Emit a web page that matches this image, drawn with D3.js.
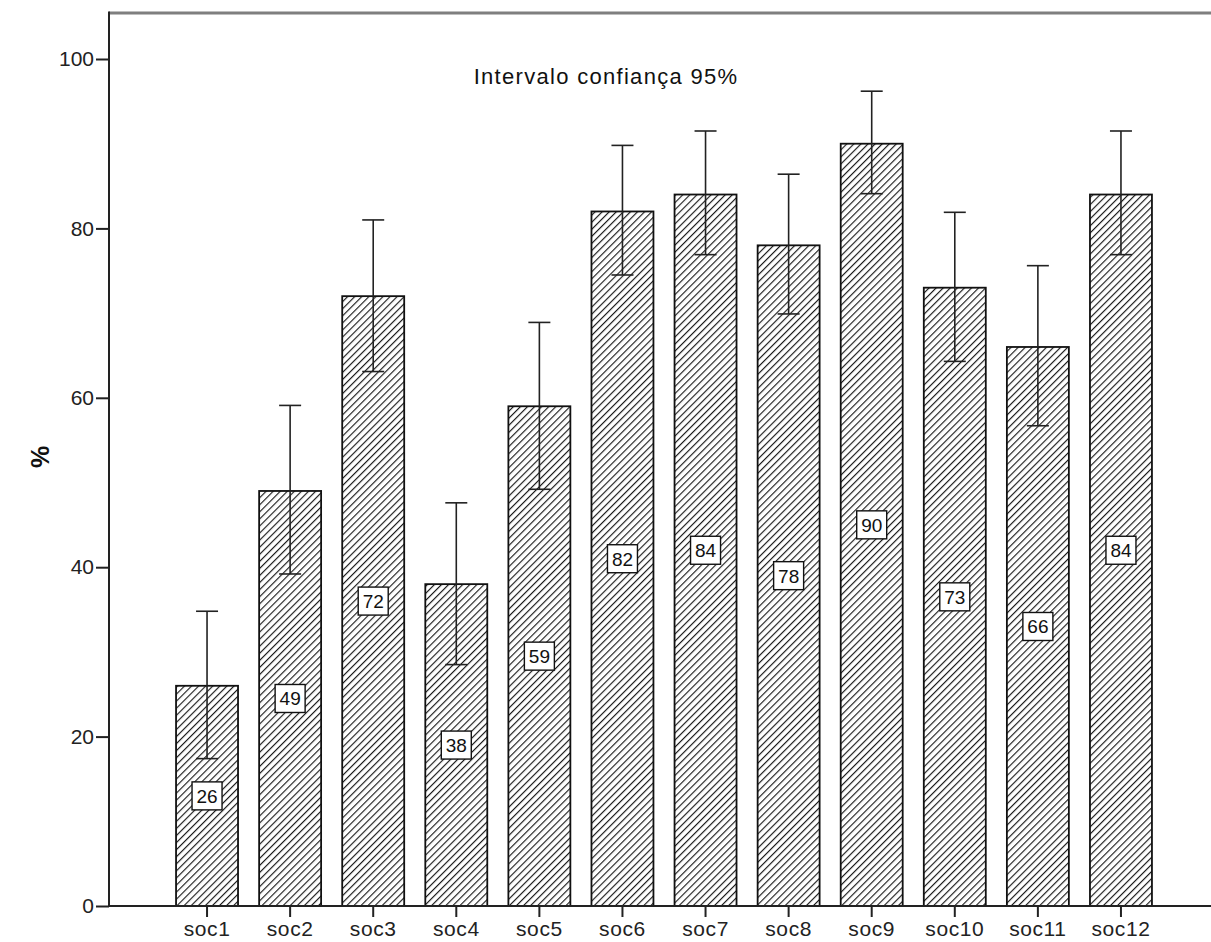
<!DOCTYPE html>
<html>
<head>
<meta charset="utf-8">
<script src="https://cdn.jsdelivr.net/npm/d3@7"></script>
<style>
  html, body { margin: 0; padding: 0; background: #fff; }
  svg { display: block; font-family: Arial, "Liberation Sans", sans-serif; }
</style>
</head>
<body>
<svg id="chart" width="1211" height="942"></svg>
<script>
// Percentage per item with 95% confidence interval
const categories = ["soc1","soc2","soc3","soc4","soc5","soc6","soc7","soc8","soc9","soc10","soc11","soc12"];
const values     = [26, 49, 72, 38, 59, 82, 84, 78, 90, 73, 66, 84];
const ciLow      = [17.4, 39.2, 63.1, 28.5, 49.2, 74.5, 76.9, 69.9, 84.1, 64.3, 56.7, 76.9];
const ciHigh     = [34.8, 59.1, 81.0, 47.6, 68.9, 89.8, 91.5, 86.4, 96.2, 81.9, 75.6, 91.5];
const yTicks     = [0, 20, 40, 60, 80, 100];
const annotation = "Intervalo confiança 95%";
const yTitle     = "%";

const svg = d3.select("#chart");
const plotLeft = 109, plotRight = 1211, plotTop = 13, plotBottom = 906;
const fontFam = "Arial, 'Liberation Sans', sans-serif";

const y = d3.scaleLinear().domain([0, 100]).range([plotBottom, 59]);
const x = d3.scaleBand().domain(categories)
  .range([165.5, 1162.5]).paddingInner(0.254).paddingOuter(0.127);

// diagonal hatch fill
const defs = svg.append("defs");
const pat = defs.append("pattern")
  .attr("id", "hatch").attr("patternUnits", "userSpaceOnUse")
  .attr("width", 5).attr("height", 5)
  .attr("patternTransform", "rotate(45)");
pat.append("rect").attr("width", 5).attr("height", 5).attr("fill", "#fff");
pat.append("line").attr("x1", 0).attr("y1", 0).attr("x2", 0).attr("y2", 5)
  .attr("stroke", "#1a1a1a").attr("stroke-width", 2.3);

// frame top line
svg.append("line").attr("x1", plotLeft).attr("x2", plotRight).attr("y1", plotTop).attr("y2", plotTop)
  .attr("stroke", "#7f7f7f").attr("stroke-width", 3);

// bars
const g = svg.append("g");
g.selectAll("rect.bar").data(categories).join("rect")
  .attr("class", "bar")
  .attr("x", d => x(d))
  .attr("width", x.bandwidth())
  .attr("y", (d, i) => y(values[i]))
  .attr("height", (d, i) => y(0) - y(values[i]))
  .attr("fill", "url(#hatch)")
  .attr("stroke", "#111").attr("stroke-width", 1.8);

// error bars
const cx = d => x(d) + x.bandwidth() / 2;
const eb = g.selectAll("g.eb").data(categories).join("g").attr("class", "eb");
eb.append("line")
  .attr("x1", cx).attr("x2", cx)
  .attr("y1", (d, i) => y(ciLow[i])).attr("y2", (d, i) => y(ciHigh[i]))
  .attr("stroke", "#222").attr("stroke-width", 1.6);
eb.append("line")
  .attr("x1", d => cx(d) - 11).attr("x2", d => cx(d) + 11)
  .attr("y1", (d, i) => y(ciHigh[i])).attr("y2", (d, i) => y(ciHigh[i]))
  .attr("stroke", "#222").attr("stroke-width", 1.6);
eb.append("line")
  .attr("x1", d => cx(d) - 11).attr("x2", d => cx(d) + 11)
  .attr("y1", (d, i) => y(ciLow[i])).attr("y2", (d, i) => y(ciLow[i]))
  .attr("stroke", "#222").attr("stroke-width", 1.6);

// value labels in boxes at half height
const lab = g.selectAll("g.lab").data(categories).join("g").attr("class", "lab")
  .attr("transform", (d, i) => `translate(${cx(d)},${y(values[i] / 2)})`);
lab.append("rect")
  .attr("x", -15).attr("y", -14).attr("width", 30).attr("height", 28)
  .attr("fill", "#fff").attr("stroke", "#111").attr("stroke-width", 1.4);
lab.append("text")
  .attr("text-anchor", "middle").attr("dy", "0.36em")
  .attr("font-size", 19).attr("fill", "#111")
  .text((d, i) => values[i]);

// axes
const yAxis = svg.append("g").attr("transform", `translate(${plotLeft},0)`)
  .call(d3.axisLeft(y).tickValues(yTicks).tickSize(13).tickPadding(2));
yAxis.select(".domain").remove();
yAxis.selectAll(".tick line").attr("stroke", "#222").attr("stroke-width", 2);
yAxis.selectAll(".tick text").attr("font-size", 21).attr("fill", "#222")
  .attr("font-family", fontFam);
svg.append("line").attr("x1", plotLeft).attr("x2", plotLeft).attr("y1", plotTop - 1.5).attr("y2", plotBottom)
  .attr("stroke", "#222").attr("stroke-width", 2);

const xAxis = svg.append("g").attr("transform", `translate(0,${plotBottom})`)
  .call(d3.axisBottom(x).tickSize(11).tickPadding(4));
xAxis.select(".domain").remove();
xAxis.selectAll(".tick line").attr("stroke", "#222").attr("stroke-width", 2);
xAxis.selectAll(".tick text").attr("font-size", 21).attr("fill", "#222")
  .attr("font-family", fontFam).attr("letter-spacing", 0.6);
svg.append("line").attr("x1", plotLeft).attr("x2", plotRight).attr("y1", plotBottom).attr("y2", plotBottom)
  .attr("stroke", "#222").attr("stroke-width", 2);

// annotation and axis title
svg.append("text").attr("x", 606).attr("y", 84).attr("text-anchor", "middle")
  .attr("font-size", 22).attr("letter-spacing", 1.3).attr("fill", "#111").text(annotation);
svg.append("text").attr("transform", "translate(49,457) rotate(-90)")
  .attr("text-anchor", "middle").attr("font-size", 25).attr("font-weight", "bold")
  .attr("fill", "#111").text(yTitle);
</script>
</body>
</html>
